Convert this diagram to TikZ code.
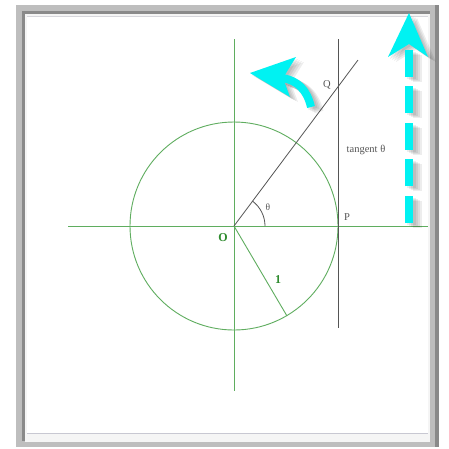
\documentclass[tikz,border=0pt]{standalone}
\usepackage{fontspec}
\setmainfont{Liberation Serif}
\usetikzlibrary{calc}
\definecolor{axisgreen}{HTML}{5FAD5F}
\definecolor{labelgreen}{HTML}{2E8B2E}
\definecolor{linegray}{HTML}{555555}
\definecolor{arrowcyan}{HTML}{00F2F2}
\definecolor{framelight}{HTML}{BEBEBE}
\definecolor{framedark}{HTML}{8A8A8A}
\definecolor{frameinner}{HTML}{F5F5F5}
\definecolor{lineA}{HTML}{C8C8D2}
\definecolor{lineB}{HTML}{D7D7DC}
\begin{document}
\begin{tikzpicture}[x=1pt,y=-1pt,
  axis/.style={draw=axisgreen,line width=0.9pt},
  grayline/.style={draw=linegray,line width=0.8pt},
  lbl/.style={text=linegray,font=\fontsize{10.5}{10.5}\selectfont,inner sep=0pt},
  glbl/.style={text=labelgreen,font=\fontsize{12}{12}\selectfont\bfseries,inner sep=0pt},
  shadowcol/.style={fill=black,opacity=0.07},
  shadowline/.style={draw=black,opacity=0.07,line width=9pt},
  ]
\useasboundingbox (0,0) rectangle (449,448);
% frame
\fill[framelight] (16,5) rectangle (439,447);
\fill[framedark] (435,5) rectangle (439,447);
\fill[framedark] (22,11) rectangle (430,14);
\fill[framedark] (22,11) rectangle (25,441);
\fill[frameinner] (25,14) rectangle (430,442);
\fill[white] (27,16) rectangle (428,433);
\draw[lineA,line width=0.8pt] (27,433) -- (428,433);
\draw[lineB,line width=0.6pt] (27,16) -- (428,16);

% coordinates
\coordinate (O) at (234,226);
\coordinate (XL) at (68,226);
\coordinate (XR) at (428,226);
\coordinate (YT) at (234,39);
\coordinate (YB) at (234,391);
\coordinate (TT) at (338,39);
\coordinate (TB) at (338,328);
\coordinate (R) at (358,60);
\coordinate (U) at (287,316);
\coordinate (A0) at (265,226);

% axes and circle
\draw[axis] (XL) -- (XR);
\draw[axis] (YT) -- (YB);
\draw[axis] (O) circle[radius=104pt];
\draw[axis] (O) -- (U);
% tangent and ray
\draw[grayline] (TT) -- (TB);
\draw[grayline] (O) -- (R);
\draw[grayline] (A0) arc[start angle=0,end angle=53.2,radius=31pt];

% labels
\node[lbl] (Q) at (327,85) {Q};
\node[lbl] (P) at (347,217) {P};
\node[lbl,font=\fontsize{9.5}{9.5}\selectfont] (th) at (268,207) {θ};
\node[lbl] (tg) at (366,150) {tangent θ};
\node[glbl] (Olbl) at (223,238) {O};
\node[glbl] (one) at (278,280) {1};

% shadows
\foreach \dx/\dy in {2/2,4/3,6/4,8/5}{
  \begin{scope}[shift={(\dx,\dy)}]
    \draw[shadowline] (311,107) .. controls (307,90) and (298,81) .. (283,78);
    \fill[shadowcol] (250,73) -- (296,57) -- (283,78) -- (290,97) -- cycle;
    \draw[shadowline,dash pattern=on 27pt off 9.6pt] (409,223) -- (409,50);
    \fill[shadowcol] (409,13) -- (428,57) -- (409,44) -- (388,57) -- cycle;
  \end{scope}
}

% curved cyan arrow
\coordinate (cs) at (311,107);
\coordinate (ce) at (283,78);
\draw[arrowcyan,line width=8pt] (cs) .. controls (307,90) and (298,81) .. (ce);
\fill[arrowcyan] (250,73) -- (296,57) -- (ce) -- (290,97) -- cycle;

% dashed cyan arrow
\coordinate (ds) at (409,223);
\coordinate (de) at (409,50);
\draw[arrowcyan,line width=8pt,dash pattern=on 27pt off 9.6pt] (ds) -- (de);
\fill[arrowcyan] (409,13) -- (428,57) -- (409,44) -- (388,57) -- cycle;
\end{tikzpicture}
\end{document}
